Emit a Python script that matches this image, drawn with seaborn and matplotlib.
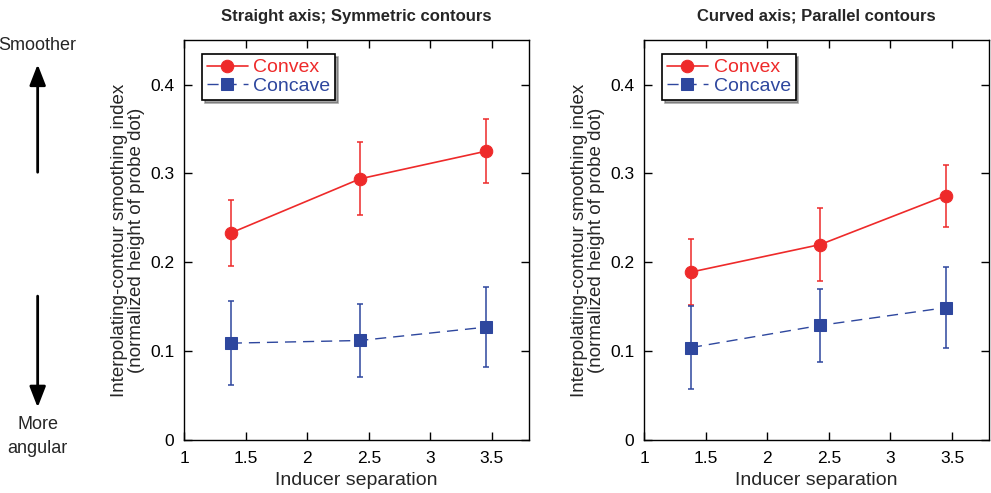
import matplotlib
matplotlib.use("Agg")
import matplotlib.pyplot as plt
import pandas as pd
import seaborn as sns

sns.set_theme(style="ticks")
plt.rcParams["font.family"] = ["Liberation Sans", "DejaVu Sans"]

# ── data ──────────────────────────────────────────────────────────────────────
separation = [1.38, 2.43, 3.45]

straight_convex = [0.233, 0.294, 0.325]
straight_convex_err = [0.037, 0.041, 0.036]
straight_concave = [0.109, 0.112, 0.127]
straight_concave_err = [0.047, 0.041, 0.045]

curved_convex = [0.189, 0.220, 0.275]
curved_convex_err = [0.037, 0.041, 0.035]
curved_concave = [0.104, 0.129, 0.149]
curved_concave_err = [0.047, 0.041, 0.046]

titles = ["Straight axis; Symmetric contours", "Curved axis; Parallel contours"]

RED = "#EE2A2A"
BLUE = "#2E479E"

fig = plt.figure(figsize=(9.91, 4.93), dpi=100)
ax1 = fig.add_axes([0.1857, 0.1075, 0.348, 0.811])
ax2 = fig.add_axes([0.650, 0.1075, 0.348, 0.811])

panels = [
    (ax1, straight_convex, straight_convex_err, straight_concave, straight_concave_err),
    (ax2, curved_convex, curved_convex_err, curved_concave, curved_concave_err),
]

for (ax, cvx, cvx_e, ccv, ccv_e), title in zip(panels, titles):
    df = pd.DataFrame({"x": separation, "convex": cvx, "concave": ccv})
    ax.errorbar(separation, cvx, yerr=cvx_e, fmt="none", ecolor=RED,
                elinewidth=1.1, capsize=2.5, capthick=1.1, zorder=2)
    ax.errorbar(separation, ccv, yerr=ccv_e, fmt="none", ecolor=BLUE,
                elinewidth=1.1, capsize=2.5, capthick=1.1, zorder=2)
    sns.lineplot(data=df, x="x", y="convex", ax=ax, color=RED, marker="o",
                 markersize=9, markeredgecolor=RED, linewidth=1.2,
                 label="Convex", zorder=3)
    sns.lineplot(data=df, x="x", y="concave", ax=ax, color=BLUE, marker="s",
                 markersize=9, markeredgecolor=BLUE, linewidth=1.0,
                 dashes=(8, 5), label="Concave", zorder=3)
    ax.set_xlim(1, 3.8)
    ax.set_ylim(0, 0.45)
    ax.set_xticks([1, 1.5, 2, 2.5, 3, 3.5])
    ax.set_xticklabels(["1", "1.5", "2", "2.5", "3", "3.5"])
    ax.set_yticks([0, 0.1, 0.2, 0.3, 0.4])
    ax.set_yticklabels(["0", "0.1", "0.2", "0.3", "0.4"])
    ax.tick_params(direction="in", top=True, right=True, length=6,
                   width=1, labelsize=12.5, colors="black")
    ax.tick_params(axis="x", pad=8)
    ax.tick_params(axis="y", pad=7)
    for s in ax.spines.values():
        s.set_visible(True)
        s.set_color("black")
        s.set_linewidth(1.0)
    ax.set_xlabel("Inducer separation", fontsize=14, labelpad=4)
    ax.set_ylabel("Interpolating-contour smoothing index\n(normalized height of probe dot)",
                  fontsize=13.5, linespacing=1.0, labelpad=4)
    ax.set_title(title, fontsize=12, fontweight="bold", pad=14)
    leg = ax.legend(loc="upper left", bbox_to_anchor=(0.035, 0.98), fancybox=False,
                    shadow=True, framealpha=1, edgecolor="black", fontsize=14,
                    handlelength=2.1, handletextpad=0.3, borderpad=0.25,
                    labelspacing=0.05, borderaxespad=0.3)
    leg.get_frame().set_linewidth(1.2)
    for txt, c in zip(leg.get_texts(), [RED, BLUE]):
        txt.set_color(c)

# left-side direction indicators
fig.text(0.038, 0.908, "Smoother", ha="center", va="center", fontsize=13)
fig.text(0.038, 0.115, "More\nangular", ha="center", va="center", fontsize=13,
         linespacing=1.5)
arrow = dict(arrowstyle="-|>,head_length=0.9,head_width=0.35", color="black", lw=2)
fig.add_artist(matplotlib.patches.FancyArrowPatch(
    (0.038, 0.645), (0.038, 0.875), transform=fig.transFigure,
    mutation_scale=14, **arrow))
fig.add_artist(matplotlib.patches.FancyArrowPatch(
    (0.038, 0.405), (0.038, 0.168), transform=fig.transFigure,
    mutation_scale=14, **arrow))

fig.savefig("out.png", dpi=100)
